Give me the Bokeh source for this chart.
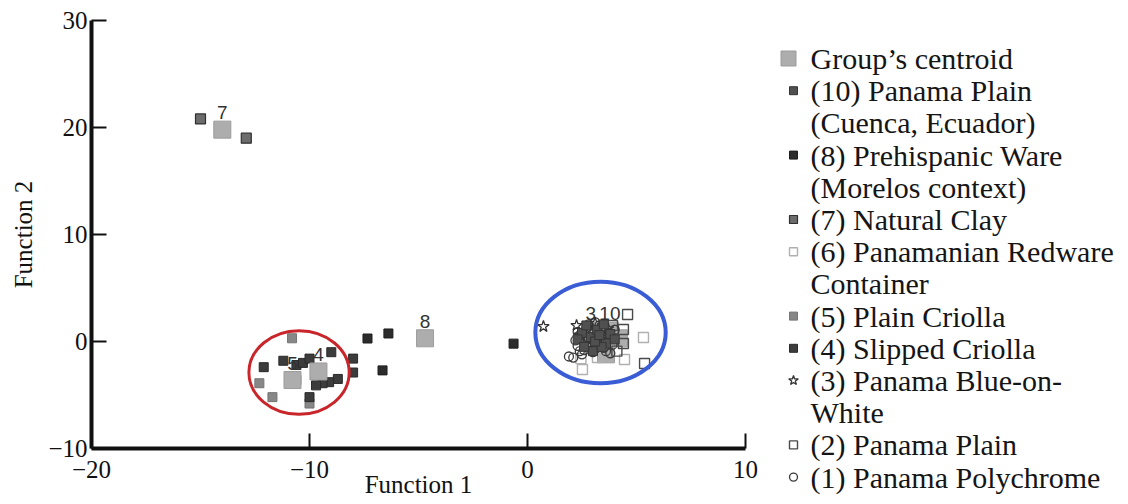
from bokeh.plotting import figure
from bokeh.models import Range1d, FixedTicker, ColumnDataSource
from bokeh.layouts import row
from bokeh.embed import file_html
from bokeh.resources import INLINE
from bokeh.core.properties import value

# ---------------- data ----------------
# (1) Panama Polychrome
g1_x = [2.1, 2.5, 2.3, 2.8, 3.1, 3.4, 2.7, 3.0, 3.6, 3.9, 2.4, 2.9, 3.3, 3.7, 2.6,
        3.2, 3.5, 4.0, 2.2, 3.8, 1.9, 2.4, 3.1, 2.8, 3.3, 2.6, 3.0, 3.6, 2.3, 3.4]
g1_y = [-1.5, -1.2, -0.4, 0.3, -0.7, 0.9, 1.2, -1.0, 0.2, -0.3, 0.6, -0.1, 1.5, 0.8, -0.8,
        0.4, -0.6, 1.1, 0.1, -1.1, -1.4, -0.9, 1.8, 1.6, -0.2, 0.0, 0.7, -0.9, 0.9, 0.5]
# (2) Panama Plain
g2_x = [4.59, 4.40, 4.40, 5.37, 3.6, 3.0, 3.9, 4.1]
g2_y = [2.52, 1.12, -0.19, -2.06, 0.4, -0.5, 1.5, -0.9]
# (3) Panama Blue-on-White
g3_x = [0.73, 2.25, 2.9, 3.3, 2.6, 3.7, 3.1, 2.4]
g3_y = [1.40, 1.50, 1.0, 0.2, -0.3, 1.2, 1.7, 0.6]
# (4) Slipped Criolla
g4_x = [-12.1, -11.2, -10.6, -10.3, -10.0, -9.0, -8.0, -8.0, -8.7, -9.1, -9.4, -9.7, -10.0]
g4_y = [-2.4, -1.8, -2.2, -2.0, -1.6, -1.0, -1.6, -2.9, -3.5, -3.8, -3.9, -4.1, -5.2]
# (5) Plain Criolla
g5_x = [-10.8, -12.3, -11.7, -10.6, -10.0]
g5_y = [0.3, -3.9, -5.2, -3.6, -5.8]
# (6) Panamanian Redware Container
g6_x = [5.32, 4.45, 2.52, 3.21, 2.45, 3.7]
g6_y = [0.37, -1.68, -2.62, -1.50, -1.6, -0.8]
# (7) Natural Clay
g7_x = [-15.0, -12.9]
g7_y = [20.8, 19.0]
# (8) Prehispanic Ware
g8_x = [-7.34, -6.38, -6.65, -0.64]
g8_y = [0.28, 0.75, -2.7, -0.2]
# (10) Panama Plain (Cuenca, Ecuador)
g10_x = [2.5, 2.9, 3.2, 3.6, 3.0, 3.8, 2.7, 3.4, 4.0, 2.3, 3.5, 3.1, 2.6, 3.3]
g10_y = [0.8, 0.4, 1.1, -0.2, -0.9, 0.7, 1.5, -0.5, 0.2, 0.2, 1.6, 0.0, -0.5, 0.6]

# group centroids
cent_group = ["1", "2", "6", "3", "10", "4", "5", "7", "8"]
cent_x = [3.0, 4.2, 3.6, 2.9, 3.78, -9.59, -10.78, -14.0, -4.7]
cent_y = [0.1, 0.3, -1.2, 1.0, 1.0, -2.8, -3.6, 19.8, 0.3]
cent_label = ["", "", "", "3", "10", "4", "5", "7", "8"]

# highlighted clusters
ell_x = [-10.48, 3.35]
ell_y = [-2.9, 0.84]
ell_w = [4.6, 5.98]
ell_h = [7.8, 9.5]

x_ticks = [-20, -10, 0, 10]
y_ticks = [-10, 0, 10, 20, 30]

legend_keys = ["centroid", "10", None, "8", None, "7", "6", None, "5", "4", "3", None, "2", "1"]
legend_text = ["Group\u2019s centroid", "(10) Panama Plain", "(Cuenca, Ecuador)",
               "(8) Prehispanic Ware", "(Morelos context)", "(7) Natural Clay",
               "(6) Panamanian Redware", "Container", "(5) Plain Criolla",
               "(4) Slipped Criolla", "(3) Panama Blue-on-", "White",
               "(2) Panama Plain", "(1) Panama Polychrome"]

# ---------------- styles ----------------
STYLE = {
    "1": dict(marker="circle", fill_color=None, line_color="#3a3a3a", size=9, line_width=1.3),
    "2": dict(marker="square", fill_color=None, line_color="#4a4a4a", size=10, line_width=1.4),
    "3": dict(marker="star", fill_color=None, line_color="#333333", size=12, line_width=1.3),
    "4": dict(marker="square", fill_color="#3c3c3c", line_color="#2a2a2a", size=9, line_width=1),
    "5": dict(marker="square", fill_color="#878787", line_color="#747474", size=9, line_width=1),
    "6": dict(marker="square", fill_color=None, line_color="#b0b0b0", size=10, line_width=1.4),
    "7": dict(marker="square", fill_color="#6c6c6c", line_color="#303030", size=10, line_width=1.2),
    "8": dict(marker="square", fill_color="#2c2c2c", line_color="#1e1e1e", size=9, line_width=1),
    "10": dict(marker="square", fill_color="#505050", line_color="#353535", size=9, line_width=1),
    "centroid": dict(marker="square", fill_color="#adadad", line_color="#9c9c9c", size=17, line_width=1),
}

SERIF = "Liberation Serif"

p = figure(frame_width=654, frame_height=428,
           min_border_left=91, min_border_right=15, min_border_top=20, min_border_bottom=56,
           x_range=Range1d(-20, 10), y_range=Range1d(-10, 30),
           output_backend="svg", toolbar_location=None)
p.frame_align = False
p.outline_line_color = None
p.xgrid.visible = False
p.ygrid.visible = False
p.background_fill_color = "white"
p.border_fill_color = "white"

for ax in (p.xaxis[0], p.yaxis[0]):
    ax.axis_line_width = 4
    ax.axis_line_color = "#111111"
    ax.major_tick_line_width = 2
    ax.major_tick_line_color = "#111111"
    ax.major_tick_in = 15
    ax.major_tick_out = 0
    ax.minor_tick_line_color = None
    ax.major_label_text_font = SERIF
    ax.major_label_text_color = "#111111"
    ax.major_label_text_font_size = "25px"
    ax.axis_label_text_font = SERIF
    ax.axis_label_text_font_size = "25px"
    ax.axis_label_text_font_style = "normal"
    ax.axis_label_text_color = "#111111"

p.yaxis.major_label_standoff = 4
p.yaxis.axis_label_standoff = 8
p.xaxis.major_label_standoff = 12
p.xaxis.axis_label_standoff = -10

p.xaxis.ticker = FixedTicker(ticks=x_ticks)
p.yaxis.ticker = FixedTicker(ticks=y_ticks)
p.xaxis.axis_label = "Function 1"
p.yaxis.axis_label = "Function 2"

# centroids of the right cluster lie under the points
cent_src = ColumnDataSource(dict(x=cent_x, y=cent_y, g=cent_group, label=cent_label))
right_cent = ColumnDataSource(dict(x=cent_x[:5], y=cent_y[:5]))
left_cent = ColumnDataSource(dict(x=cent_x[5:], y=cent_y[5:]))
p.scatter("x", "y", source=right_cent, **STYLE["centroid"])

groups = [("6", g6_x, g6_y), ("2", g2_x, g2_y), ("1", g1_x, g1_y), ("3", g3_x, g3_y),
          ("10", g10_x, g10_y), ("5", g5_x, g5_y), ("4", g4_x, g4_y), ("7", g7_x, g7_y),
          ("8", g8_x, g8_y)]
for g, xs, ys in groups:
    p.scatter(xs, ys, **STYLE[g])

p.scatter("x", "y", source=left_cent, **STYLE["centroid"])

p.text("x", "y", text="label", source=cent_src, y_offset=-17,
       text_font=value("Liberation Sans"), text_font_size="19px", text_color="#333333",
       text_align="center", text_baseline="middle")

p.ellipse(x=[ell_x[0]], y=[ell_y[0]], width=[ell_w[0]], height=[ell_h[0]],
          fill_color=None, line_color="#c8262b", line_width=3)
p.ellipse(x=[ell_x[1]], y=[ell_y[1]], width=[ell_w[1]], height=[ell_h[1]],
          fill_color=None, line_color="#3a5cd4", line_width=4)

# ---------------- legend panel ----------------
LW = 1128 - 760
leg = figure(width=LW, height=504, x_range=Range1d(0, LW), y_range=Range1d(504, 0),
             min_border=0, output_backend="svg", toolbar_location=None)
leg.frame_align = False
leg.axis.visible = False
leg.xgrid.visible = False
leg.ygrid.visible = False
leg.outline_line_color = None

row_y = [58 + i * 32.2 for i in range(len(legend_text))]
for key, yy in zip(legend_keys, row_y):
    if key is None:
        continue
    st = dict(STYLE[key])
    if key == "centroid":
        st["size"] = 15
        leg.scatter([28], [yy], **st)
    else:
        st["size"] = 8 if st["marker"] != "star" else 10
        leg.scatter([33], [yy], **st)

leg.text(x=[50] * len(legend_text), y=row_y, text=legend_text,
         text_font=value(SERIF), text_font_size="30px", text_color="#151515",
         text_align="left", text_baseline="middle")

layout = row(p, leg)
open("out.html", "w").write(file_html(layout, INLINE))
